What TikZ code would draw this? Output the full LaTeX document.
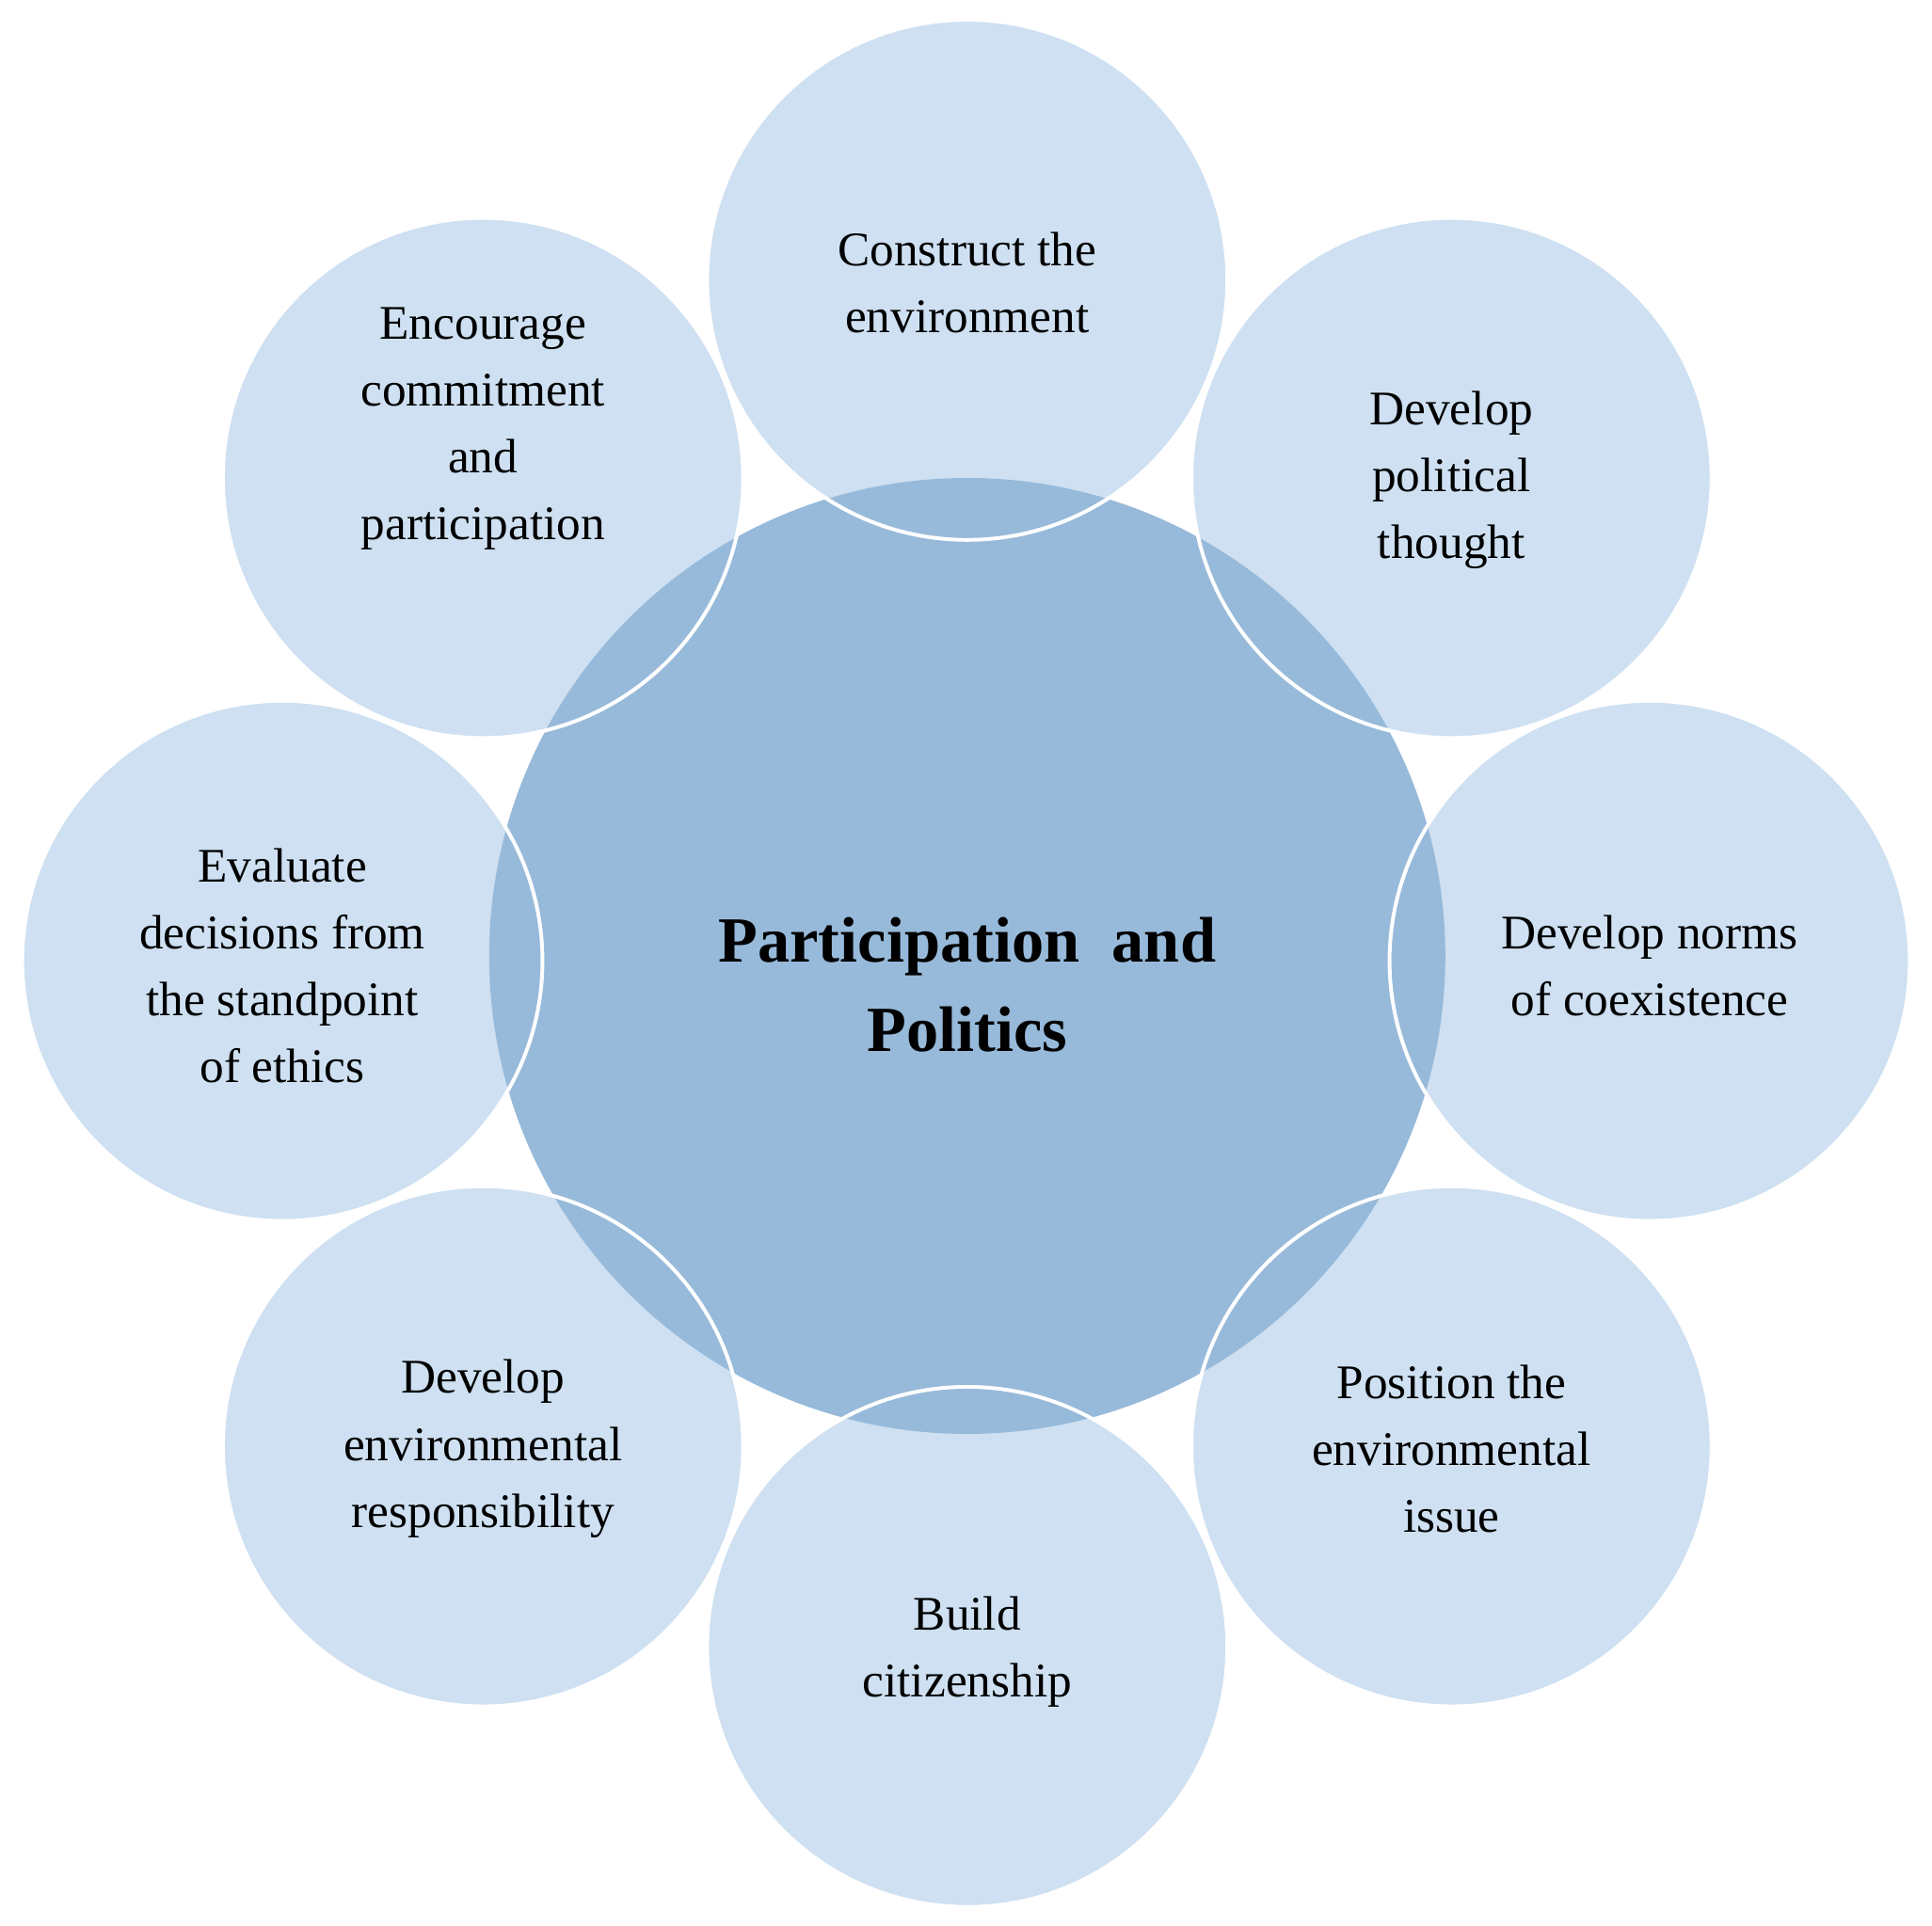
\documentclass[tikz,border=0pt]{standalone}
\usepackage{fontspec}
\setmainfont{Liberation Serif}
\definecolor{outerc}{HTML}{CEE0F1}
\definecolor{innerc}{HTML}{97BADA}
\tikzset{
  petal/.style={circle,minimum size=420pt,inner sep=0pt,fill=outerc},
  ring/.style={circle,minimum size=420pt,inner sep=0pt,draw=white,line width=3pt},
  hub/.style={circle,minimum size=772pt,inner sep=0pt,fill=innerc}
}
\begin{document}
\begin{tikzpicture}[x=1pt,y=-1pt]
\useasboundingbox[fill=white] (0,0) rectangle (1560,1555);
\foreach \n/\x/\y in {t/781/226,tr/1172/386,r/1332/776,br/1172/1168,b/781/1330,bl/390/1168,l/228/776,tl/390/386}
  \node[petal] (p\n) at (\x,\y) {};
\node[hub] (hub) at (781,772) {};
\foreach \n/\x/\y in {t/781/226,tr/1172/386,r/1332/776,br/1172/1168,b/781/1330,bl/390/1168,l/228/776,tl/390/386}
  \node[ring] (r\n) at (\x,\y) {};
\tikzset{lbl/.style={align=center,font=\fontsize{39}{54}\selectfont}}
\node[lbl] at (781,228) {Construct the\\environment};
\node[lbl] at (1172,388) {Develop\\political\\thought};
\node[lbl] at (1332,780) {Develop norms\\of coexistence};
\node[lbl] at (1172,1170) {Position the\\environmental\\issue};
\node[lbl] at (781,1334) {Build\\citizenship};
\node[lbl] at (390,1170) {Develop\\environmental\\responsibility};
\node[lbl] at (228,780) {Evaluate\\decisions from\\the standpoint\\of ethics};
\node[lbl] at (390,346) {Encourage\\commitment\\and\\participation};
\node[align=center,font=\fontsize{52}{72}\selectfont\bfseries] at (781,795) {Participation\ \ and\\Politics};
\end{tikzpicture}
\end{document}
